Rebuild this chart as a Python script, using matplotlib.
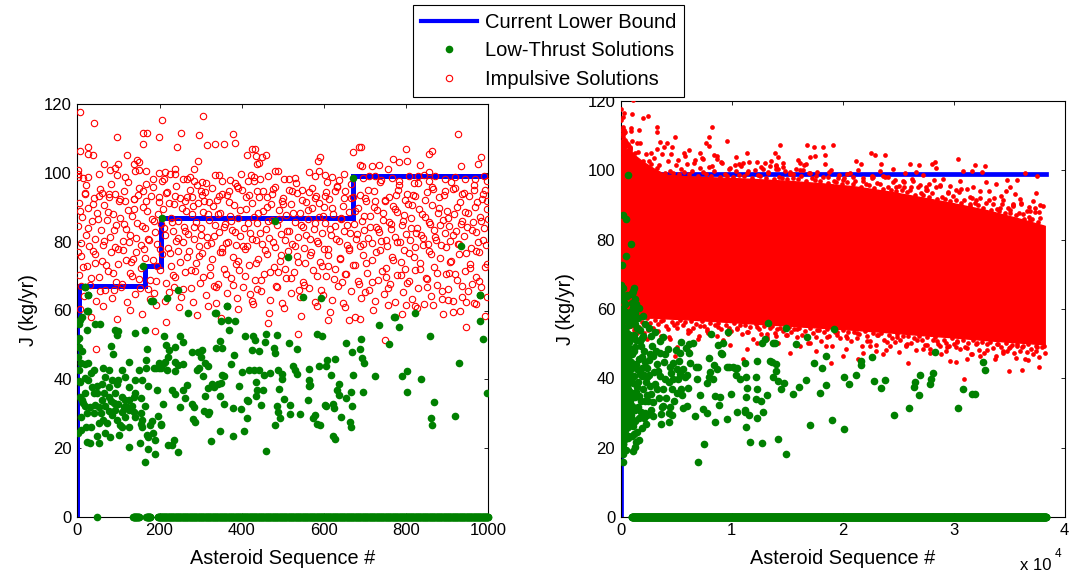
import numpy as np
import matplotlib
matplotlib.use("Agg")
import matplotlib.pyplot as plt
from matplotlib.lines import Line2D

plt.rcParams['font.family'] = ['Liberation Sans', 'DejaVu Sans']

GREEN = '#008000'

# ---------------------------------------------------------------- data
# Current lower bound (staircase), first 1000 asteroids and full sequence
bound_seq = [0, 0, 4, 165, 204, 672, 1000]
bound_j = [0, 57, 67, 73, 87, 99, 99]
bound_seq_full = bound_seq + [38300]
bound_j_full = bound_j + [99]

# Asteroids whose low-thrust solution is J = 0 (inclusive index runs)
zero_runs_first = [(49, 49), (136, 150), (168, 178), (196, 1000)]
zero_runs_rest = [(1000, 38350)]

# Impulsive solutions, first 1000 asteroids: (sequence #, J)
impulsive_high = [
    (6, 117.8), (40, 114.5), (307, 116.6), (206, 115.3), (97, 110.5), (161, 111.6), (169, 111.6),
    (161, 108.5), (199, 110.5), (253, 111.7), (295, 110.9), (380, 111.2), (383, 108.7), (356, 108.3),
    (336, 108.3), (315, 108.1), (6, 106.4), (26, 107.4), (26, 105.4), (37, 105.2), (98, 102.7),
    (121, 105.2), (145, 103.7), (138, 102.7), (243, 107.6), (283, 101.2), (294, 103.5), (414, 105.2),
    (425, 106.9), (433, 106.9), (436, 105.0), (443, 103.0), (459, 105.2), (449, 104.5), (438, 102.7),
    (590, 104.5), (585, 103.5), (671, 106.0), (686, 107.6), (691, 107.4), (689, 102.2), (693, 102.0),
    (926, 111.4), (864, 106.2), (855, 105.6), (800, 106.8), (767, 103.9), (782, 103.1), (801, 103.3),
    (983, 104.7), (976, 102.5), (934, 102.0), (718, 102.0), (733, 102.2), (757, 101.2), (835, 102.2),
    (856, 100.1), (843, 99.3), (1, 100.8), (2, 99.8), (2, 98.7), (13, 98.5), (27, 98.7), (53, 99.7),
    (80, 100.8), (91, 101.4), (96, 99.4), (66, 102.7), (117, 98.7), (140, 100.4), (149, 103.1),
    (151, 100.8), (167, 100.4), (166, 96.9), (183, 98.1), (198, 100.0), (214, 100.2), (211, 98.3),
    (226, 99.6), (237, 99.8), (237, 101.2), (256, 98.1), (268, 98.1), (275, 98.9), (283, 97.7),
    (303, 97.3), (313, 97.1), (302, 94.8), (336, 99.4), (344, 99.4), (352, 97.7), (372, 97.9),
    (384, 97.1), (399, 99.7), (415, 97.7), (423, 99.3), (431, 98.7), (445, 98.2), (465, 99.2),
    (480, 100.4), (488, 100.6), (503, 98.3), (514, 98.1), (530, 98.5), (563, 100.2), (579, 99.2),
    (587, 100.6), (602, 99.4), (608, 97.2), (620, 98.7), (636, 97.9), (650, 99.8), (694, 98.5),
    (709, 99.1), (725, 99.2), (740, 97.9), (766, 98.5), (782, 97.7), (806, 99.2), (819, 97.1),
    (830, 99.1), (855, 97.7), (871, 99.1), (895, 98.1), (920, 98.7), (944, 98.1), (968, 98.3),
    (989, 99.1), (998, 97.5),
]
impulsive_mid = [
    (1, 84.5), (4, 91.2), (9, 79.6), (12, 87.3), (18, 94.1), (22, 82.0), (27, 89.8), (29, 78.7), (35, 85.9),
    (41, 92.6), (44, 80.8), (48, 88.4), (55, 95.2), (57, 83.3), (63, 79.1), (66, 90.7), (72, 86.2), (78, 93.9),
    (80, 81.5), (87, 88.0), (91, 78.4), (95, 84.8), (101, 91.9), (104, 86.9), (110, 80.1), (113, 94.7),
    (119, 83.7), (124, 89.2), (126, 79.9), (133, 87.6), (137, 92.3), (142, 81.1), (146, 85.4), (151, 95.6),
    (156, 78.9), (160, 90.1), (165, 84.0), (169, 88.8), (175, 80.5), (180, 93.2), (182, 86.6), (189, 82.7),
    (194, 79.3), (198, 91.5), (203, 85.1), (209, 89.4), (213, 81.9), (218, 94.5), (221, 78.2), (227, 87.0),
    (232, 83.1), (235, 90.9), (241, 80.3), (246, 86.0), (250, 92.8), (256, 79.8), (259, 84.4), (264, 89.0),
    (270, 82.3), (273, 95.0), (279, 87.9), (283, 80.7), (288, 85.7), (294, 91.1), (297, 78.6), (302, 83.9),
    (306, 88.6), (311, 94.3), (316, 81.3), (320, 86.4), (325, 79.5), (331, 90.4), (334, 84.9), (340, 92.0),
    (345, 82.8), (348, 88.2), (353, 78.1), (359, 85.2), (364, 93.6), (366, 80.0), (372, 87.4), (377, 83.4),
    (381, 90.6), (386, 79.0), (392, 86.8), (396, 81.7), (401, 94.9), (405, 84.1), (411, 89.6), (414, 78.8),
    (420, 82.5), (424, 91.3), (429, 87.1), (435, 80.4), (438, 85.5), (443, 93.0), (449, 79.4), (452, 88.9),
    (458, 83.6), (462, 90.2), (467, 81.0), (473, 86.3), (476, 95.4), (481, 78.5), (486, 84.7), (490, 89.3),
    (496, 82.1), (500, 92.7), (505, 80.6), (509, 87.8), (515, 83.0), (519, 90.8), (523, 79.2), (529, 85.8),
    (534, 94.0), (537, 81.4), (543, 88.3), (548, 84.2), (551, 78.3), (557, 91.6), (562, 86.5), (566, 80.9),
    (571, 89.7), (576, 83.8), (580, 93.4), (585, 79.7), (589, 87.2), (595, 82.4), (600, 90.0), (603, 85.3),
    (609, 78.0), (613, 92.4), (618, 81.8), (623, 88.1), (627, 84.6), (632, 95.8), (636, 80.2), (641, 86.7),
    (646, 90.5), (650, 83.2), (655, 79.1), (660, 88.7), (664, 82.6), (670, 93.1), (674, 85.0), (678, 80.8),
    (684, 89.9), (688, 78.6), (693, 86.1), (697, 83.5), (703, 91.8), (707, 81.2), (712, 87.5), (716, 79.6),
    (721, 94.6), (726, 84.3), (730, 89.1), (735, 82.9), (739, 80.3), (745, 86.4), (749, 92.2), (754, 78.7),
    (758, 85.6), (763, 83.7), (767, 90.3), (772, 81.5), (777, 88.5), (781, 95.1), (786, 79.9), (790, 84.8),
    (795, 87.7), (799, 82.2), (804, 91.0), (809, 80.4), (813, 86.9), (818, 93.7), (822, 78.4), (827, 84.0),
    (831, 89.5), (836, 82.0), (840, 81.0), (845, 87.3), (850, 94.4), (854, 79.3), (859, 85.1), (863, 90.7),
    (868, 83.3), (872, 80.6), (877, 88.3), (881, 92.9), (886, 78.9), (890, 86.2), (895, 82.5), (899, 89.0),
    (904, 84.5), (908, 80.1), (913, 95.3), (917, 87.9), (922, 83.0), (926, 79.4), (931, 91.4), (935, 86.0),
    (940, 81.7), (944, 88.6), (949, 84.2), (953, 93.3), (958, 78.2), (962, 85.7), (967, 90.1), (971, 82.8),
    (976, 80.0), (980, 87.1), (985, 92.5), (989, 83.9), (994, 79.0), (998, 89.4),
    (19, 93.8), (52, 93.4), (76, 92.9), (91, 93.8), (117, 91.9), (138, 92.4), (161, 94.8), (198, 92.9),
    (216, 94.0), (238, 93.4), (263, 91.9), (279, 92.9), (303, 93.6), (320, 91.4), (344, 93.4), (368, 94.8),
    (392, 95.6), (417, 93.6), (437, 94.8), (461, 92.9), (474, 93.8), (499, 91.9), (522, 94.8), (547, 95.0),
    (563, 94.3), (579, 92.7), (602, 93.4), (628, 94.8), (652, 94.8), (665, 92.7), (701, 92.7), (725, 91.9),
    (749, 91.9), (775, 93.6), (798, 92.1), (822, 93.4), (863, 95.8), (895, 94.8), (920, 95.6), (936, 93.8),
    (964, 95.0), (986, 93.8), (998, 91.9),
]
impulsive_spread = [
    (2, 77.0), (7, 88.9), (14, 72.6), (20, 96.4), (25, 84.1), (33, 69.4), (38, 91.0), (43, 76.3), (50, 86.7),
    (56, 65.8), (61, 94.2), (64, 80.2), (70, 73.1), (75, 88.6), (83, 96.8), (86, 70.9), (90, 83.5), (98, 77.9),
    (103, 92.5), (108, 67.6), (114, 85.1), (118, 74.8), (123, 97.2), (129, 82.0), (132, 70.1), (139, 89.5),
    (144, 77.0), (148, 93.6), (153, 66.5), (158, 84.6), (164, 75.2), (167, 91.8), (173, 80.9), (178, 69.0),
    (184, 95.9), (187, 86.1), (193, 72.9), (197, 88.0), (201, 78.0), (207, 97.6), (211, 84.0), (216, 68.1),
    (222, 91.3), (225, 76.6), (231, 85.6), (234, 70.4), (240, 96.1), (244, 81.1), (249, 74.0), (254, 89.9),
    (258, 66.2), (262, 83.0), (268, 93.1), (272, 77.3), (277, 71.7), (281, 90.4), (285, 84.4), (291, 96.6),
    (296, 75.8), (300, 82.0), (305, 69.6), (309, 91.8), (315, 79.0), (319, 87.9), (323, 72.5), (328, 95.5),
    (333, 81.6), (338, 66.9), (342, 88.1), (347, 76.9), (351, 93.8), (356, 84.3), (361, 70.6), (363, 79.5),
    (369, 91.4), (374, 86.0), (379, 67.4), (383, 82.9), (388, 96.3), (391, 74.4), (397, 89.2), (402, 78.6),
    (407, 70.0), (410, 93.0), (416, 85.3), (419, 64.9), (426, 80.7), (430, 97.5), (434, 73.7), (439, 88.4),
    (445, 82.4), (448, 68.9), (453, 94.6), (457, 77.5), (463, 85.9), (468, 71.2), (471, 91.0), (477, 80.0),
    (482, 96.0), (485, 66.8), (491, 86.5), (495, 76.1), (501, 90.9), (506, 72.2), (510, 83.1), (516, 94.9),
    (520, 69.5), (525, 88.3), (530, 78.8), (533, 97.0), (538, 74.2), (544, 84.7), (547, 92.0), (552, 67.3),
    (556, 81.9), (561, 89.1), (565, 76.0), (570, 95.7), (574, 71.9), (579, 85.4), (583, 80.1), (588, 91.2),
    (592, 66.1), (597, 87.6), (601, 77.8), (606, 94.5), (610, 72.9), (615, 83.6), (619, 89.8), (624, 69.2),
    (629, 80.9), (633, 96.2), (638, 75.0), (642, 86.9), (648, 92.6), (652, 70.7), (656, 84.9), (662, 78.1),
    (665, 96.9), (671, 73.3), (675, 88.9), (680, 82.3), (685, 67.8), (689, 93.5), (694, 79.2), (698, 87.4),
    (702, 73.9), (708, 95.0), (713, 84.2), (717, 68.4), (722, 90.1), (727, 77.0), (731, 83.8), (736, 97.3),
    (741, 71.5), (744, 88.2), (750, 80.5), (755, 66.4), (759, 92.9), (764, 85.0), (769, 74.6), (773, 89.6),
    (778, 79.8), (783, 96.4), (787, 70.2), (792, 86.0), (796, 77.6), (802, 93.9), (806, 68.6), (811, 84.1),
    (815, 90.6), (820, 75.4), (824, 82.6), (829, 97.0), (833, 72.0), (838, 88.0), (842, 79.0), (847, 92.1),
    (852, 69.1), (856, 85.7), (861, 76.5), (865, 95.4), (870, 81.4), (874, 71.0), (879, 89.8), (883, 84.9),
    (888, 65.6), (892, 93.6), (897, 78.4), (901, 87.0), (906, 74.1), (910, 97.2), (914, 82.0), (919, 70.5),
    (923, 90.0), (928, 79.2), (933, 85.2), (937, 67.0), (942, 94.0), (946, 76.8), (951, 88.4), (955, 72.4),
    (960, 83.4), (964, 96.5), (969, 77.4), (973, 91.5), (978, 68.7), (982, 85.9), (987, 80.4), (991, 94.9),
    (996, 73.5), (999, 86.6),
]
impulsive_low = [
    (3, 70.2), (10, 75.8), (16, 64.1), (24, 72.9), (31, 67.5), (39, 77.2), (46, 62.8), (52, 69.6), (59, 74.3),
    (67, 65.9), (74, 71.4), (81, 76.9), (85, 63.7), (93, 68.3), (99, 73.5), (106, 66.7), (112, 77.6),
    (121, 62.4), (128, 70.8), (135, 75.1), (140, 64.9), (149, 69.1), (154, 72.4), (162, 77.9), (171, 66.2),
    (177, 63.3), (185, 74.7), (191, 68.7), (200, 71.9), (206, 76.3), (214, 62.9), (223, 65.4), (229, 73.0),
    (238, 69.8), (244, 77.4), (252, 63.9), (261, 71.1), (267, 75.4), (276, 66.5), (281, 62.6), (290, 73.8),
    (299, 68.0), (304, 76.7), (313, 64.6), (322, 70.4), (328, 74.9), (337, 62.2), (343, 67.8), (351, 77.1),
    (357, 72.2), (365, 65.2), (373, 69.3), (379, 75.6), (388, 63.5), (394, 71.7), (403, 66.9), (409, 77.8),
    (417, 73.2), (425, 62.7), (432, 68.9), (440, 75.0), (446, 65.6), (455, 70.7), (461, 76.4), (469, 63.1),
    (478, 72.6), (483, 67.2), (492, 74.5), (498, 62.3), (507, 69.5), (513, 77.3), (521, 65.0), (527, 71.3),
    (535, 75.9), (542, 63.8), (550, 68.4), (555, 73.7), (563, 66.4), (569, 77.0), (578, 62.5), (584, 70.0),
    (591, 74.1), (598, 64.4), (606, 69.9), (611, 76.2), (620, 63.0), (626, 72.1), (634, 67.0), (640, 75.3),
    (647, 62.1), (653, 70.5), (661, 77.5), (667, 65.7), (676, 73.3), (682, 68.6), (690, 63.6), (696, 76.0),
    (704, 71.0), (710, 66.0), (718, 74.6), (724, 62.9), (732, 69.0), (737, 77.7), (746, 64.7), (752, 72.3),
    (760, 67.6), (766, 75.5), (774, 62.4), (779, 70.3), (788, 74.0), (793, 65.3), (801, 68.1), (807, 76.8),
    (815, 63.4), (821, 71.8), (829, 66.6), (834, 73.9), (843, 62.0), (848, 69.4), (856, 77.2), (861, 64.3),
    (869, 72.7), (875, 67.4), (883, 75.2), (888, 63.2), (897, 70.6), (902, 66.3), (910, 74.4), (915, 62.7),
    (924, 68.8), (929, 76.5), (937, 64.0), (943, 71.5), (951, 65.8), (956, 73.6), (965, 62.2), (970, 69.7),
    (978, 77.0), (983, 66.8), (991, 72.5), (996, 63.9), (8, 67.1), (44, 73.9), (89, 66.0), (131, 74.0),
    (187, 65.1), (236, 66.9), (286, 71.6), (332, 67.0), (385, 73.4), (437, 66.3), (488, 71.2), (540, 66.1),
    (595, 72.8), (644, 68.2), (700, 65.5), (750, 69.7), (798, 72.0), (852, 66.9), (905, 71.0), (960, 67.8),
    (7, 60.5), (34, 58.2), (62, 61.3), (97, 57.4), (129, 60.1), (158, 59.0), (192, 61.6), (217, 56.8),
    (248, 60.9), (291, 58.7), (318, 61.2), (349, 57.9), (392, 60.4), (428, 61.8), (466, 59.3), (503, 60.7),
    (545, 58.5), (582, 61.4), (616, 59.7), (651, 61.0), (688, 57.6), (720, 60.2), (757, 61.7), (791, 58.9),
    (826, 60.6), (866, 61.5), (890, 59.1), (932, 60.0), (971, 61.9), (993, 58.4),
    (45, 48.9), (190, 53.9), (464, 56.3), (538, 53.1), (610, 57.1), (748, 51.5), (946, 55.1), (913, 59.5),
    (660, 57.3), (675, 58.1), (946, 62.4), (902, 63.1), (800, 61.7), (821, 61.2),
]

# Low-thrust solutions, first 1000 asteroids: (sequence #, J)
thrust_first = [
    (3, 56.1), (6, 57.3), (11, 58.1), (24, 59.8), (26, 64.6), (19, 66.8), (24, 54.2), (3, 52.1), (5, 49.4),
    (10, 44.7), (19, 44.5), (27, 44.7), (3, 42.6), (6, 39.2), (11, 34.1), (1, 24.3), (24, 21.7), (32, 21.4),
    (52, 21.4), (42, 56.1), (55, 56.1), (92, 54.2), (97, 52.8), (99, 53.9), (83, 49.6), (86, 47.4),
    (141, 53.6), (164, 54.4), (170, 48.9), (167, 45.5), (125, 45.1), (109, 42.6), (76, 42.6), (63, 43.4),
    (40, 42.6), (34, 41.7), (19, 40.5), (27, 39.7), (47, 38.0), (40, 35.9), (19, 35.9), (6, 34.9), (18, 32.2),
    (44, 32.6), (60, 33.9), (76, 34.9), (68, 32.2), (92, 35.9), (100, 32.8), (117, 33.9), (125, 31.0),
    (133, 32.2), (109, 30.5), (84, 29.6), (63, 28.1), (73, 27.2), (52, 27.2), (34, 26.2), (23, 30.1),
    (21, 26.2), (47, 23.5), (68, 24.3), (79, 23.3), (102, 23.7), (109, 26.2), (125, 26.2), (141, 29.1),
    (154, 27.0), (157, 26.2), (169, 23.9), (173, 23.1), (183, 24.3), (188, 22.3), (182, 27.9), (203, 26.8),
    (196, 29.3), (208, 32.8), (193, 36.8), (172, 38.0), (157, 39.7), (141, 39.7), (149, 42.6), (167, 43.4),
    (186, 43.4), (199, 43.4), (208, 44.5), (141, 35.9), (156, 34.7), (165, 32.2), (138, 34.9), (96, 38.6),
    (84, 39.7), (68, 40.7), (117, 40.7), (100, 39.7), (125, 37.8), (76, 37.8), (60, 38.7), (52, 32.0),
    (40, 30.1), (14, 33.0), (92, 31.0), (117, 29.1), (152, 21.4), (126, 20.4), (173, 19.9), (188, 18.2),
    (165, 15.9), (36, 37.8), (49, 35.9), (65, 35.9), (81, 33.7), (89, 33.0), (109, 34.9), (113, 32.0),
    (125, 33.9), (96, 28.1), (104, 26.6), (122, 32.0), (138, 30.5), (154, 30.1), (157, 28.1), (178, 26.6),
    (76, 30.8), (57, 30.1), (31, 32.0), (10, 29.1), (8, 25.4), (3, 39.5), (1, 46.5), (11, 48.2), (0, 51.3),
    (212, 52.5), (216, 50.1), (222, 48.6), (238, 49.4), (251, 52.5), (256, 50.9), (220, 46.5), (214, 44.9),
    (198, 44.7), (191, 43.4), (204, 43.4), (237, 45.1), (246, 44.1), (256, 44.5), (238, 42.4), (219, 42.8),
    (279, 48.0), (294, 48.0), (303, 48.4), (302, 46.5), (297, 43.4), (292, 42.6), (305, 40.9), (310, 44.7),
    (319, 44.0), (230, 36.8), (237, 35.7), (256, 37.0), (268, 38.4), (263, 34.7), (251, 32.0), (279, 32.8),
    (284, 32.0), (282, 28.5), (287, 27.7), (308, 30.8), (318, 29.9), (321, 30.6), (204, 27.0), (235, 22.5),
    (220, 21.0), (230, 21.0), (245, 18.8),
    (337, 59.3), (364, 61.3), (350, 56.9), (366, 57.3), (384, 56.9), (368, 54.4), (347, 51.1), (337, 49.2),
    (352, 49.2), (381, 47.2), (375, 44.5), (352, 41.2), (358, 40.9), (328, 38.6), (342, 38.6), (349, 39.0),
    (319, 37.6), (332, 37.8), (311, 35.3), (348, 35.3), (394, 38.0), (358, 32.8), (378, 31.6), (398, 31.4),
    (413, 28.7), (347, 25.0), (378, 23.5), (405, 25.0), (326, 22.1), (458, 19.3), (412, 33.9), (409, 52.5),
    (428, 52.5), (433, 51.5), (460, 53.2), (485, 53.0), (425, 48.4), (441, 48.2), (456, 50.9), (478, 49.2),
    (480, 47.6), (514, 50.7), (534, 48.8), (584, 53.2), (595, 52.5), (654, 50.7), (669, 48.0), (690, 51.6),
    (688, 48.9), (692, 46.1), (697, 44.7), (400, 42.0), (417, 42.8), (430, 42.8), (443, 42.6), (454, 41.2),
    (470, 41.8), (488, 42.6), (499, 41.6), (499, 40.2), (524, 44.0), (530, 42.8), (534, 41.6), (563, 39.9),
    (566, 38.4), (563, 43.0), (587, 43.8), (608, 45.7), (605, 44.0), (626, 45.9), (618, 41.2), (672, 41.4),
    (435, 39.3), (437, 36.8), (451, 36.9), (436, 35.1), (447, 32.6), (415, 33.7), (490, 37.1), (504, 34.3),
    (486, 32.2), (488, 30.4), (493, 28.7), (480, 26.6), (518, 32.5), (518, 29.9), (543, 29.9), (561, 33.9),
    (564, 38.0), (574, 28.7), (579, 29.5), (590, 26.6), (582, 27.0), (602, 32.4), (605, 32.2), (621, 32.8),
    (624, 31.6), (631, 37.0), (636, 38.6), (636, 35.5), (642, 29.1), (654, 34.7), (665, 36.4), (668, 32.2),
    (663, 27.5), (667, 26.1), (623, 23.5), (628, 22.7), (694, 36.4), (724, 41.1), (735, 55.8), (758, 50.4),
    (772, 58.0), (782, 55.3), (803, 42.4), (791, 41.0), (802, 36.2), (822, 59.2), (836, 40.0), (858, 52.5),
    (869, 33.4), (860, 28.8), (864, 26.6), (920, 29.4), (928, 44.7), (979, 64.4), (981, 56.9), (986, 51.7),
    (996, 35.9), (550, 64.0), (592, 63.7), (269, 59.3), (246, 66.0), (219, 63.7), (185, 62.7), (180, 62.9),
    (206, 87.0), (161, 72.8), (18, 66.7), (27, 64.6), (26, 59.9), (482, 85.9), (513, 75.4), (934, 78.8),
    (980, 64.6), (671, 98.6), (365, 61.4), (336, 59.4), (771, 58.0),
]

# Low-thrust solutions beyond the first 1000 asteroids
thrust_rest = [
    (6986, 15.8), (7496, 21.0), (14936, 18.1), (11636, 21.7), (12686, 21.4), (14186, 22.5), (17036, 26.6),
    (19076, 28.1), (20096, 25.4), (24596, 29.5), (25976, 31.4), (30386, 31.4), (26876, 35.1), (26426, 37.5),
    (26516, 38.9), (26936, 41.1), (27986, 39.9), (27896, 38.3), (28136, 41.6), (30836, 37.0), (31676, 35.6),
    (31916, 35.6), (32786, 42.4), (32636, 44.7), (28286, 47.6), (22616, 46.1), (23816, 39.5), (23456, 37.1),
    (22856, 39.1), (21236, 40.9), (20576, 38.4), (20096, 40.4), (21686, 43.8), (21686, 45.0), (18476, 46.3),
    (18476, 38.2), (18176, 43.0), (17936, 35.8), (17396, 44.4), (16676, 39.5), (16076, 37.4), (15536, 35.5),
    (14696, 38.6), (14486, 37.0), (14186, 39.2), (13976, 42.0), (13736, 40.5), (13436, 45.1), (13616, 44.8),
    (14036, 44.0), (13856, 50.1), (12296, 44.9), (12176, 40.3), (12296, 36.8), (12176, 33.9), (12596, 33.5),
    (12236, 28.7), (12776, 30.2), (13136, 35.1), (11276, 40.3), (11276, 34.7), (11336, 37.2), (11156, 31.0),
    (11156, 30.4), (11276, 26.0), (11576, 29.3), (10376, 40.9), (10736, 39.7), (10136, 43.2), (10436, 43.0),
    (11216, 44.5), (9596, 28.3), (10436, 30.2), (9896, 35.5), (9716, 43.2), (9116, 47.1), (8516, 34.9),
    (8936, 34.7), (8876, 32.2), (8516, 27.3), (7796, 30.1), (7376, 31.1), (7136, 35.3), (8036, 41.8),
    (7976, 40.5), (8336, 39.9), (8636, 42.6), (8396, 43.8), (7916, 45.9), (8996, 47.4), (8756, 49.6),
    (9176, 50.3), (6716, 29.1), (6776, 43.2), (6956, 43.2), (6236, 44.3), (6116, 47.4), (6176, 50.0),
    (6476, 50.3), (5876, 48.8), (5336, 47.2), (5996, 32.0), (6056, 37.2), (5456, 36.8), (5516, 35.3),
    (5036, 35.7), (5156, 39.7), (4736, 39.7), (4556, 41.6), (4616, 36.8), (4376, 30.1), (4436, 31.8),
    (3776, 32.0), (3716, 31.8), (2396, 29.5), (2216, 30.1), (2096, 28.7), (3656, 26.7), (4376, 27.3),
    (4616, 29.5), (3536, 50.9), (3836, 51.8), (4016, 46.9), (5216, 45.1), (4736, 44.4), (5636, 42.6),
    (5756, 40.5), (4316, 38.9), (3836, 36.8), (3236, 36.8), (2876, 33.1), (2396, 35.3), (2636, 37.8),
    (2036, 36.8), (1916, 40.7), (3236, 44.0), (2936, 46.5), (2816, 49.4), (2756, 52.3), (2516, 54.4),
    (2036, 52.3), (1796, 49.4), (1616, 45.5), (1436, 42.6), (1136, 38.7), (1316, 34.5), (1016, 32.0),
    (1616, 28.7), (1136, 26.2), (1016, 23.3), (1256, 20.2), (3536, 47.4), (2336, 43.0), (2396, 40.5),
    (3536, 40.7), (4016, 39.7), (5036, 42.6), (5936, 41.1), (6896, 39.7), (7736, 38.7), (9596, 43.4),
    (10316, 43.0), (12956, 51.3), (13736, 50.3), (15836, 50.0), (12716, 50.3),
    (1100, 60.2), (1250, 55.8), (1400, 51.0), (1550, 57.5), (1200, 47.9), (1350, 44.1), (1700, 41.3),
    (1050, 43.8), (1450, 37.6), (1800, 33.4), (1150, 30.9), (1300, 27.8), (1500, 24.6), (1650, 22.3),
    (1100, 19.0), (1900, 46.2), (2100, 48.0), (2200, 44.6), (1750, 54.0), (2000, 57.9), (1300, 63.0),
    (1150, 65.2), (2250, 39.0), (2450, 33.5), (1950, 25.8), (2700, 31.0), (3000, 41.9), (2600, 47.1),
    (3100, 53.3), (2200, 55.6), (8100, 52.9), (9700, 53.5), (13300, 56.0), (14900, 54.6), (19200, 54.2),
    (16800, 52.0),
    (1080, 57.0), (1180, 52.5), (1320, 49.0), (1420, 61.5), (1240, 40.6), (1380, 36.2), (1520, 31.8),
    (1060, 28.4), (1230, 24.0), (1400, 21.5), (1580, 39.0), (1680, 35.0), (1850, 30.2), (1720, 50.8),
    (1880, 43.0), (2060, 40.9), (2150, 33.6), (2300, 26.9), (2520, 45.3), (2580, 41.0), (2760, 35.4),
    (2900, 29.0), (3050, 38.3), (3150, 47.8), (3350, 42.1), (3420, 34.2), (3600, 29.6), (3900, 44.8),
    (4100, 34.3), (4250, 48.6), (4480, 43.2), (4800, 33.4), (4950, 48.1), (5300, 41.3), (5600, 31.5),
    (5450, 50.6), (1320, 58.8), (1480, 54.6), (1650, 60.3), (1900, 51.5), (1020, 47.0), (1120, 35.4),
    (1280, 31.0), (1050, 61.8), (1200, 66.0),
]

# Impulsive solutions, full sequence: solid band (upper / lower edge) ...
band_seq = [0, 1000, 2000, 3000, 4000, 6000, 8000, 10000, 12000, 15000, 18000, 21000, 24000, 27000,
            30000, 33000, 36000, 38200]
band_upper = [107.0, 105.0, 102.5, 100.5, 98.8, 98.3, 98.0, 97.8, 97.5, 97.0, 96.3, 95.4, 94.0, 92.3,
              90.5, 88.5, 86.0, 84.0]
band_lower = [56.0, 57.0, 57.5, 57.5, 57.3, 57.0, 56.6, 56.2, 55.8, 55.2, 54.6, 54.0, 53.3, 52.5,
              51.8, 51.0, 50.3, 49.8]

# ... the ragged fringe along its upper edge ...
edge_upper = [
    (300, 106.8), (520, 108.1), (810, 106.4), (1040, 108.5), (1290, 105.0), (1530, 105.3), (1760, 107.9),
    (2020, 102.7), (2250, 104.7), (2510, 102.8), (2740, 101.9), (3010, 103.6), (3230, 100.6), (3480, 101.6),
    (3720, 104.8), (3990, 99.1), (4240, 102.8), (4470, 99.8), (4730, 99.2), (4980, 101.5), (5210, 98.9),
    (5460, 100.5), (5720, 99.4), (5950, 101.9), (6190, 99.0), (6440, 99.8), (6700, 103.0), (6930, 98.4),
    (7180, 100.8), (7410, 99.4), (7680, 98.9), (7920, 101.1), (8170, 98.5), (8400, 99.9), (8650, 103.4),
    (8910, 98.2), (9140, 102.0), (9390, 99.0), (9620, 98.4), (9880, 100.7), (10130, 98.2), (10360, 99.8),
    (10620, 98.7), (10850, 101.3), (11100, 98.3), (11340, 99.2), (11590, 102.4), (11830, 97.7), (12070, 100.2),
    (12330, 98.7), (12560, 98.3), (12810, 100.5), (13050, 97.8), (13300, 99.2), (13540, 102.7), (13790, 97.5),
    (14030, 101.3), (14280, 98.2), (14520, 97.7), (14770, 99.9), (15010, 97.4), (15260, 99.0), (15500, 97.9),
    (15750, 100.4), (15990, 97.5), (16240, 98.3), (16480, 101.5), (16730, 96.8), (16970, 99.3), (17220, 97.8),
    (17460, 97.3), (17710, 99.5), (17950, 96.8), (18200, 98.1), (18440, 101.7), (18690, 96.4), (18930, 100.1),
    (19180, 97.0), (19420, 96.5), (19670, 98.7), (19910, 96.1), (20160, 97.8), (20400, 96.6), (20650, 99.1),
    (20890, 96.1), (21140, 96.9), (21380, 100.0), (21630, 95.3), (21870, 97.7), (22120, 96.2), (22360, 95.7),
    (22610, 97.7), (22850, 95.0), (23100, 96.3), (23340, 99.8), (23590, 94.5), (23830, 98.2), (24080, 95.1),
    (24320, 94.4), (24570, 96.6), (24810, 93.9), (25060, 95.5), (25300, 94.3), (25550, 96.7), (25790, 93.7),
    (26040, 94.4), (26280, 97.5), (26530, 92.8), (26770, 95.1), (27020, 93.6), (27260, 93.0), (27510, 95.1),
    (27750, 92.4), (28000, 93.6), (28240, 97.1), (28490, 91.7), (28730, 95.4), (28980, 92.2), (29220, 91.6),
    (29470, 93.7), (29710, 91.1), (29960, 92.6), (30200, 91.4), (30450, 93.8), (30690, 90.7), (30940, 91.5),
    (31180, 94.5), (31430, 89.7), (31670, 92.1), (31920, 90.5), (32160, 90.0), (32410, 92.0), (32650, 89.2),
    (32900, 90.5), (33140, 93.9), (33390, 88.5), (33630, 92.1), (33880, 88.9), (34120, 88.2), (34370, 90.3),
    (34610, 87.6), (34860, 89.1), (35100, 87.8), (35350, 90.1), (35590, 87.0), (35840, 87.7), (36080, 90.7),
    (36330, 85.9), (36570, 88.2), (36820, 86.6), (37060, 85.9), (37310, 87.9), (37550, 85.1), (37800, 86.3),
    (38040, 89.6),
]

# ... the ragged fringe along its lower edge ...
edge_lower = [
    (420, 56.1), (660, 54.9), (930, 56.1), (1170, 53.9), (1410, 56.7), (1650, 54.9), (1900, 56.3),
    (2140, 53.0), (2390, 57.3), (2630, 56.0), (2870, 54.6), (3120, 56.9), (3360, 53.6), (3600, 56.4),
    (3850, 56.9), (4100, 55.1), (4340, 52.0), (4590, 56.3), (4830, 55.5), (5080, 54.5), (5320, 56.8),
    (5570, 55.3), (5810, 56.2), (6060, 53.8), (6300, 56.4), (6550, 54.5), (6790, 55.6), (7040, 52.3),
    (7280, 56.5), (7530, 55.2), (7770, 53.7), (8020, 56.0), (8260, 52.7), (8510, 55.5), (8750, 56.1),
    (9000, 54.2), (9240, 51.2), (9490, 55.4), (9730, 54.6), (9980, 53.6), (10220, 55.9), (10470, 54.3),
    (10710, 55.3), (10960, 52.8), (11200, 55.5), (11450, 53.5), (11690, 54.7), (11940, 51.3), (12180, 55.6),
    (12430, 54.2), (12670, 52.8), (12920, 55.0), (13160, 51.8), (13410, 54.5), (13650, 55.1), (13900, 53.2),
    (14140, 50.2), (14390, 54.4), (14630, 53.6), (14880, 52.6), (15120, 54.9), (15370, 53.3), (15610, 54.3),
    (15860, 51.8), (16100, 54.5), (16350, 52.5), (16590, 53.7), (16840, 50.3), (17080, 54.6), (17330, 53.2),
    (17570, 51.8), (17820, 54.0), (18060, 50.8), (18310, 53.5), (18550, 54.1), (18800, 52.2), (19040, 49.2),
    (19290, 53.4), (19530, 52.6), (19780, 51.6), (20020, 53.9), (20270, 52.3), (20510, 53.3), (20760, 50.8),
    (21000, 53.5), (21250, 51.5), (21490, 52.7), (21740, 49.3), (21980, 53.6), (22230, 52.2), (22470, 50.8),
    (22720, 53.0), (22960, 49.7), (23210, 52.5), (23450, 53.0), (23700, 51.2), (23940, 48.1), (24190, 52.4),
    (24430, 51.5), (24680, 50.5), (24920, 52.8), (25170, 51.2), (25410, 52.1), (25660, 49.7), (25900, 52.3),
    (26150, 50.3), (26390, 51.5), (26640, 48.1), (26880, 52.3), (27130, 51.0), (27370, 49.5), (27620, 51.8),
    (27860, 48.5), (28110, 51.2), (28350, 51.8), (28600, 49.9), (28840, 46.9), (29090, 51.1), (29330, 50.3),
    (29580, 49.3), (29820, 51.5), (30070, 50.0), (30310, 50.9), (30560, 48.5), (30800, 51.1), (31050, 49.1),
    (31290, 50.3), (31540, 46.9), (31780, 51.1), (32030, 49.8), (32270, 48.3), (32520, 50.5), (32760, 47.3),
    (33010, 50.0), (33250, 50.5), (33500, 48.7), (33740, 45.6), (33990, 49.9), (34230, 49.0), (34480, 48.0),
    (34720, 50.3), (34970, 48.7), (35210, 49.7), (35460, 47.2), (35700, 49.9), (35950, 47.9), (36190, 49.1),
    (36440, 45.7), (36680, 49.9), (36930, 48.6), (37170, 47.1), (37420, 49.4), (37660, 46.1), (37910, 48.9),
    (38150, 49.4),
]

# ... and the isolated solutions further above and below it
impulsive_above = [
    (1076, 120.4), (986, 116.3), (1976, 115.0), (2486, 115.7), (3236, 112.6), (3236, 111.0), (8186, 112.6),
    (1676, 111.7), (896, 112.3), (236, 112.6), (236, 109.7), (3536, 108.3), (4196, 107.8), (4916, 109.5),
    (4616, 106.8), (3896, 106.8), (5696, 104.9), (7976, 109.7), (7676, 108.0), (7976, 107.0), (9536, 108.6),
    (8396, 104.4), (8636, 104.2), (6176, 105.9), (7136, 104.9), (7286, 103.5), (10376, 103.8), (11336, 105.1),
    (10976, 102.2), (10286, 101.5), (14396, 107.4), (13886, 104.9), (14186, 103.8), (14636, 102.0),
    (13976, 100.3), (16796, 107.4), (17396, 106.6), (18236, 106.8), (19136, 107.4), (17036, 103.8),
    (16736, 101.8), (17486, 104.1), (18386, 104.5), (15986, 102.9), (16136, 102.0), (12236, 102.5),
    (12986, 102.0), (13436, 101.2), (14636, 100.9), (14036, 101.5), (21176, 102.6), (21686, 101.8),
    (22586, 104.9), (22886, 104.4), (23786, 104.5), (23486, 101.8), (24536, 100.5), (22646, 98.3),
    (23636, 98.4), (24086, 98.1), (26036, 101.8), (26876, 101.4), (26636, 99.4), (28076, 101.8),
    (28286, 102.5), (28376, 100.8), (25586, 99.1), (27236, 98.6), (30386, 103.4), (30836, 99.9),
    (31886, 101.6), (32786, 101.2), (31676, 99.8), (32576, 99.6), (36386, 99.3), (34796, 97.2),
    (35696, 97.2), (37496, 98.5), (37436, 93.5), (37136, 91.2), (30596, 97.0), (31736, 95.2), (32936, 96.7),
    (33836, 96.2), (35096, 95.1), (34736, 94.1), (35486, 93.3), (29036, 97.4), (29636, 95.4), (30236, 94.3),
    (28436, 95.2), (27776, 96.2), (36086, 90.4), (36776, 89.4), (37286, 89.0), (37676, 88.0), (36236, 87.5),
    (36836, 85.8), (33536, 90.4), (34436, 91.4), (35336, 90.4), (34136, 89.0), (35036, 88.5), (32036, 91.4),
    (31436, 90.4), (25436, 97.0), (24836, 95.2), (26186, 95.2), (26936, 95.7), (27536, 94.3), (20036, 97.2),
    (20936, 98.1), (19436, 95.2), (18686, 98.1), (17036, 99.1), (16136, 100.1), (15236, 99.5),
    (1500, 107.9), (2700, 105.1), (3300, 106.2), (4500, 104.8), (5200, 102.9), (5800, 104.0), (6600, 102.1),
    (7400, 103.3), (8200, 101.2), (9000, 102.4), (9800, 100.3), (10700, 101.8), (11500, 99.9), (12600, 101.0),
    (13300, 99.4), (14200, 100.5), (15500, 98.9), (16400, 100.2), (17600, 98.4), (18800, 99.6), (19600, 97.7),
    (20400, 99.0), (21800, 96.8), (22700, 98.1), (23400, 96.0), (24700, 97.3), (25500, 95.2), (26300, 96.9),
    (27600, 94.3), (28800, 95.8), (29500, 93.5), (30700, 94.6), (31500, 92.4), (32400, 94.0), (33200, 91.3),
    (34300, 92.6), (35300, 89.8), (36000, 91.7), (36900, 88.4), (37800, 89.9),
]
impulsive_below = [
    (34976, 42.1), (36176, 42.3), (37676, 43.4), (30896, 39.9), (29636, 45.0), (30236, 44.7), (31196, 45.5),
    (31676, 46.9), (32336, 46.5), (33836, 46.5), (34436, 47.4), (35636, 46.0), (36686, 45.3), (37436, 47.9),
    (36236, 49.4), (35036, 48.9), (25856, 44.4), (25076, 47.6), (25676, 49.4), (27236, 48.4), (27836, 47.4),
    (28736, 49.4), (29336, 47.9), (30236, 48.9), (20036, 46.5), (20336, 48.4), (21386, 45.5), (21836, 47.4),
    (22436, 49.4), (23036, 47.9), (23636, 47.0), (24236, 49.4), (15296, 47.4), (16136, 49.4), (17036, 50.3),
    (17636, 47.9), (18536, 49.4), (18986, 44.4), (11036, 45.5), (11336, 48.4), (12236, 50.3), (13136, 51.3),
    (14036, 52.3), (9836, 49.6), (9236, 50.8), (6086, 53.2), (6986, 51.3), (5036, 48.9), (4436, 51.3),
    (3596, 52.3), (7736, 54.2), (8636, 52.3), (2336, 51.3), (1436, 53.2), (836, 55.2), (6116, 48.0),
    (4886, 46.5),
    (1200, 55.1), (2500, 53.9), (3400, 55.6), (4300, 54.2), (5100, 56.0), (6200, 53.6), (7100, 55.0),
    (7900, 53.2), (8800, 54.7), (9700, 52.9), (10500, 54.5), (11400, 53.3), (12300, 54.9), (13200, 52.8),
    (14100, 54.1), (15000, 52.6), (15900, 54.3), (16800, 52.2), (17700, 53.8), (18600, 51.9), (19500, 53.4),
    (20400, 51.7), (21300, 53.0), (22200, 50.9), (23100, 52.4), (24000, 50.5), (24900, 51.8), (25800, 49.9),
    (26700, 51.2), (27600, 49.6), (28500, 50.9), (29400, 49.0), (30300, 50.6), (31200, 48.7), (32100, 50.2),
    (33000, 48.3), (33900, 49.8), (34800, 47.9), (35700, 49.3), (36600, 47.5), (37500, 48.9), (38200, 47.2),
]

x_tick_vals = [0, 200, 400, 600, 800, 1000]
x_tick_vals_full = [0, 10000, 20000, 30000, 40000]
x_tick_labels_full = ['0', '1', '2', '3', '4']
y_tick_vals = [0, 20, 40, 60, 80, 100, 120]


# ---------------------------------------------------------------- helpers
def split(pairs):
    xs, ys = zip(*pairs)
    return np.asarray(xs, float), np.asarray(ys, float)


def expand_runs(runs, step):
    return np.concatenate([np.arange(a, b + 1, step) for a, b in runs])


def style_axes(ax, ylabelpad):
    for sp in ax.spines.values():
        sp.set_linewidth(0.8)
        sp.set_color('black')
    ax.tick_params(direction='in', length=3, width=0.6, top=True, right=True,
                   labelsize=12, pad=4, colors='black')
    ax.set_ylim(0, 120)
    ax.set_yticks(y_tick_vals)
    ax.set_xlabel('Asteroid Sequence #', fontsize=14.3, labelpad=8)
    ax.set_ylabel('J (kg/yr)', fontsize=14.3, labelpad=ylabelpad)


imp_first = impulsive_high + impulsive_mid + impulsive_spread + impulsive_low
imp_x, imp_y = split(imp_first)
thr_x, thr_y = split(thrust_first)
thr2_x, thr2_y = split(thrust_rest)
above_x, above_y = split(impulsive_above + edge_upper)
below_x, below_y = split(impulsive_below + edge_lower)
zero_x1 = expand_runs(zero_runs_first, 1)
zero_x2 = expand_runs(zero_runs_rest, 20)

# ---------------------------------------------------------------- figure
fig = plt.figure(figsize=(10.72, 5.76), dpi=100)
ax1 = fig.add_axes([77.3 / 1072, 59 / 576, 411 / 1072, 413 / 576])
ax2 = fig.add_axes([620.7 / 1072, 59 / 576, 444 / 1072, 416 / 576])

# left: first 1000 asteroids
ax1.step(bound_seq, bound_j, where='post', color='blue', lw=3.6, zorder=2,
         solid_joinstyle='miter')
ax1.plot(imp_x, imp_y, 'o', mfc='none', mec='red', ms=4.6, mew=0.8, ls='none', zorder=3)
ax1.plot(thr_x, thr_y, 'o', color=GREEN, ms=5.5, mew=0, ls='none', zorder=4)
ax1.plot(zero_x1, np.zeros_like(zero_x1), 'o', color=GREEN, ms=5.5, mew=0, ls='none',
         zorder=4, clip_on=False)
ax1.set_xlim(0, 1000)
ax1.set_xticks(x_tick_vals)
style_axes(ax1, 4)

# right: full sequence
ax2.step(bound_seq_full, bound_j_full, where='post', color='blue', lw=3.4, zorder=2)
ax2.fill_between(band_seq, band_lower, band_upper, color='red', lw=1.0, ec='red', zorder=3)
for xs, ys in [(above_x, above_y), (below_x, below_y), (imp_x, imp_y)]:
    ax2.plot(xs, ys, 'o', color='red', ms=3.4, mew=0, ls='none', zorder=3)
for xs, ys in [(thr_x, thr_y), (thr2_x, thr2_y)]:
    ax2.plot(xs, ys, 'o', color=GREEN, ms=5.5, mew=0, ls='none', zorder=4)
ax2.plot(zero_x2, np.zeros_like(zero_x2), 'o', color=GREEN, ms=5.5, mew=0, ls='none',
         zorder=4, clip_on=False)
ax2.set_xlim(0, 40000)
ax2.set_xticks(x_tick_vals_full)
ax2.set_xticklabels(x_tick_labels_full)
style_axes(ax2, 9)
fig.text(1052 / 1072, 1 - 566 / 576, 'x 10', fontsize=12, ha='right', va='center')
fig.text(1055 / 1072, 1 - 554 / 576, '4', fontsize=8.5, ha='left', va='center')

# shared legend
handles = [
    Line2D([], [], color='blue', lw=3),
    Line2D([], [], ls='none', marker='o', color=GREEN, ms=5.5, mew=0),
    Line2D([], [], ls='none', marker='o', mfc='none', mec='red', ms=4.6, mew=0.8),
]
labels = ['Current Lower Bound', 'Low-Thrust Solutions', 'Impulsive Solutions']
leg = fig.legend(handles, labels, loc='upper center', bbox_to_anchor=(548.5 / 1072, 1 - 5 / 576),
                 frameon=True, fancybox=False, edgecolor='black', framealpha=1, fontsize=14.5,
                 handlelength=2.8, handletextpad=0.35, borderaxespad=0, borderpad=0.38,
                 labelspacing=0.48)
leg.get_frame().set_linewidth(0.8)

fig.savefig('out.png', dpi=100)
